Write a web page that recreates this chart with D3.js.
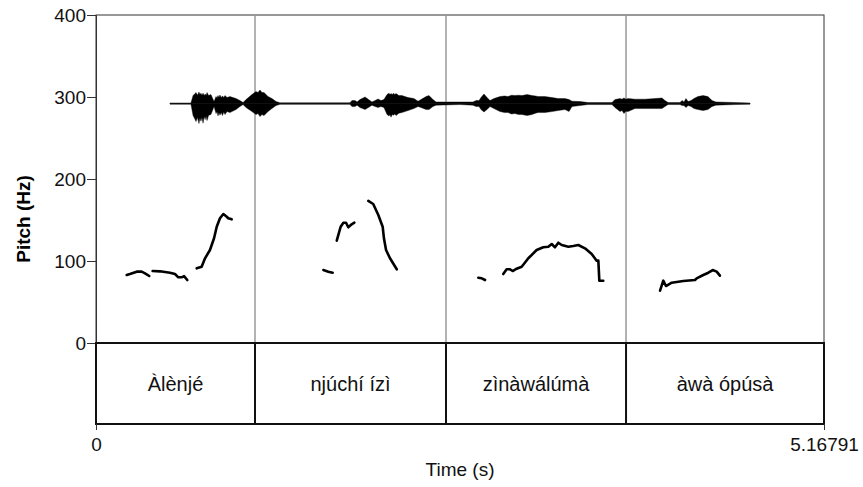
<!DOCTYPE html>
<html><head><meta charset="utf-8">
<script src="https://cdn.jsdelivr.net/npm/d3@7"></script>
<style>body{margin:0;background:#fff}svg{display:block}text{font-family:"Liberation Sans",Arial,sans-serif}</style>
</head><body>
<svg id="c" width="863" height="487"></svg>
<script>
// ---- data ----
const duration = 5.16791;
const pitchTicks = [0, 100, 200, 300, 400];
const timeTickLabels = ["0", "5.16791"];
const wordLabels = ["Àlènjé", "njúchí ízì", "zìnàwálúmà", "àwà ópúsà"];
const wordBounds = [0, 1.1287, 2.4846, 3.7626, 5.16791];
const waveCenterHz = 292;
// pitch contour segments: [time (s), F0 (Hz)]
const pitchSegments = [
  [[0.218,82.9],[0.241,84.1],[0.289,87],[0.324,87],[0.348,85],[0.378,81.7]],
  [[0.402,87.8],[0.454,87.4],[0.525,85.7],[0.561,84.1],[0.584,80.1],[0.608,80.1],[0.625,81.5],[0.648,76.8]],
  [[0.715,91.1],[0.750,93.0],[0.774,103.3],[0.809,113.4],[0.838,127.7],[0.857,141.8],[0.880,152.1],[0.904,157.3],[0.928,154.0],[0.939,152.1],[0.963,150.8]],
  [[1.614,89],[1.649,87],[1.680,85.7]],
  [[1.709,124.8],[1.737,141.8],[1.756,146.7],[1.775,146.7],[1.791,141.1],[1.815,144.8],[1.834,146.7]],
  [[1.933,173.2],[1.968,169.5],[2.004,156.1],[2.035,141.8],[2.044,127.7],[2.059,113.4],[2.087,103.3],[2.135,89.9]],
  [[2.714,79.6],[2.738,78.9],[2.762,76.8]],
  [[2.891,84.1],[2.915,89.9],[2.939,89.9],[2.958,87.8],[2.986,90.6],[3.022,93.0],[3.069,103.3],[3.128,113.4],[3.175,116.7],[3.211,117.4],[3.235,120.7],[3.258,116.7],[3.282,122.3],[3.306,119.5],[3.353,117.4],[3.388,118.3],[3.424,119.5],[3.471,115.5],[3.519,108.5],[3.554,100.4],[3.566,100.4],[3.573,76.0],[3.601,76.0]],
  [[4.004,63.8],[4.027,76.0],[4.046,69.5],[4.087,73.5],[4.169,75.6],[4.252,76.8],[4.264,78.9],[4.311,82.9],[4.347,85.7],[4.378,89.0],[4.406,87.0],[4.429,82.1]]
];
// waveform envelope: [time (s), upper amplitude, lower amplitude] (normalized)
const waveEnvelope = [
  [0.525,0.03,0.03],[0.674,0.03,0.03],[0.689,0.40,0.60],[0.700,0.48,0.75],[0.710,0.55,0.90],[0.720,0.42,0.70],[0.731,0.58,1.00],[0.738,0.45,0.72],[0.745,0.52,0.88],[0.752,0.42,0.70],[0.760,0.52,0.98],[0.768,0.40,0.65],[0.775,0.48,0.80],[0.782,0.40,0.62],[0.788,0.55,0.85],[0.800,0.40,0.58],[0.816,0.45,0.55],[0.838,0.10,0.15],
  [0.852,0.35,0.50],[0.859,0.28,0.40],[0.866,0.40,0.62],[0.873,0.30,0.45],[0.880,0.43,0.58],[0.889,0.30,0.45],[0.898,0.38,0.60],[0.907,0.30,0.42],[0.916,0.40,0.55],[0.930,0.30,0.40],[0.951,0.35,0.45],[0.994,0.25,0.30],[1.022,0.15,0.15],[1.044,0.05,0.05],
  [1.065,0.20,0.20],[1.107,0.45,0.40],[1.136,0.60,0.55],[1.150,0.55,0.50],[1.164,0.68,0.65],[1.178,0.55,0.55],[1.193,0.55,0.60],[1.221,0.35,0.40],[1.249,0.25,0.25],[1.278,0.10,0.10],[1.306,0.04,0.04],
  [1.803,0.04,0.04],[1.817,0.15,0.15],[1.839,0.15,0.15],[1.853,0.08,0.08],[1.874,0.20,0.20],[1.910,0.33,0.30],[1.945,0.15,0.15],[1.959,0.08,0.08],[1.981,0.15,0.15],[2.002,0.23,0.20],[2.023,0.15,0.15],[2.044,0.20,0.20],
  [2.066,0.45,0.55],[2.080,0.52,0.62],[2.087,0.45,0.55],[2.094,0.50,0.68],[2.103,0.45,0.55],[2.112,0.52,0.58],[2.121,0.45,0.52],[2.130,0.50,0.60],[2.150,0.40,0.48],[2.172,0.40,0.45],[2.215,0.30,0.35],[2.257,0.25,0.25],[2.286,0.12,0.15],
  [2.307,0.20,0.20],[2.343,0.35,0.30],[2.364,0.40,0.30],[2.392,0.20,0.15],[2.414,0.08,0.08],[2.584,0.08,0.05],[2.676,0.08,0.08],[2.698,0.15,0.15],[2.719,0.15,0.15],
  [2.733,0.30,0.30],[2.754,0.48,0.42],[2.776,0.30,0.30],[2.797,0.15,0.15],[2.825,0.25,0.25],[2.868,0.35,0.40],[2.900,0.38,0.45],[2.925,0.35,0.45],[2.950,0.42,0.52],[2.974,0.40,0.50],
  [3.000,0.42,0.55],[3.024,0.40,0.55],[3.060,0.45,0.60],[3.095,0.40,0.55],[3.120,0.38,0.48],[3.138,0.35,0.45],[3.187,0.35,0.45],[3.237,0.30,0.40],[3.280,0.25,0.35],[3.329,0.25,0.30],
  [3.358,0.20,0.40],[3.379,0.12,0.15],[3.436,0.10,0.10],[3.493,0.05,0.05],[3.663,0.05,0.05],[3.684,0.20,0.20],[3.720,0.25,0.40],[3.734,0.22,0.35],[3.748,0.28,0.50],[3.762,0.22,0.38],[3.777,0.25,0.40],[3.826,0.22,0.25],
  [3.897,0.22,0.25],[3.968,0.25,0.25],[4.018,0.28,0.25],[4.039,0.15,0.15],[4.061,0.05,0.05],[4.146,0.05,0.05],[4.160,0.15,0.10],[4.174,0.08,0.10],[4.188,0.25,0.20],[4.203,0.10,0.10],
  [4.224,0.15,0.15],[4.245,0.25,0.25],[4.273,0.35,0.30],[4.309,0.40,0.35],[4.344,0.35,0.30],[4.373,0.15,0.15],[4.401,0.08,0.08],[4.536,0.05,0.05],[4.643,0.03,0.03]
];

// ---- layout ----
const svg = d3.select("#c");
const L = 96, R = 824, T = 15, B = 343, TB = 424;
const FS = 19;
const x = d3.scaleLinear().domain([0, duration]).range([L, R]);
const y = d3.scaleLinear().domain([0, 400]).range([B, T]);
const ampHz = d3.scaleLinear().domain([-1, 1]).range([waveCenterHz - 24.4, waveCenterHz + 24.4]);

// frame
svg.append("rect").attr("x", L).attr("y", T).attr("width", R - L).attr("height", B - T)
  .attr("fill", "none").attr("stroke", "#333").attr("stroke-width", 1);

// interval boundaries in pitch area (gray)
svg.selectAll("line.bd").data(wordBounds.slice(1, -1)).join("line")
  .attr("x1", d => x(d)).attr("x2", d => x(d)).attr("y1", T).attr("y2", B)
  .attr("stroke", "#999").attr("stroke-width", 1.5);

// waveform
const area = d3.area().x(d => x(d[0])).y0(d => y(ampHz(-d[2]))).y1(d => y(ampHz(d[1]))).curve(d3.curveLinear);
svg.append("path").datum(waveEnvelope).attr("d", area).attr("fill", "#000").attr("stroke", "#000").attr("stroke-width", 0.4);
svg.append("line").attr("x1", x(waveEnvelope[0][0])).attr("x2", x(waveEnvelope[waveEnvelope.length - 1][0]))
  .attr("y1", y(waveCenterHz)).attr("y2", y(waveCenterHz)).attr("stroke", "#111").attr("stroke-width", 1);

// pitch contours
const line = d3.line().x(d => x(d[0])).y(d => y(d[1]));
svg.selectAll("path.p").data(pitchSegments).join("path").attr("class", "p")
  .attr("d", line).attr("fill", "none").attr("stroke", "#000").attr("stroke-width", 2.6)
  .attr("stroke-linejoin", "round").attr("stroke-linecap", "round");

// y axis
const yAxis = d3.axisLeft(y).tickValues(pitchTicks).tickSize(9).tickPadding(1).tickFormat(d3.format("d"));
const ga = svg.append("g").attr("transform", `translate(${L},0)`).call(yAxis);
ga.select(".domain").attr("stroke", "#333");
ga.selectAll(".tick line").attr("stroke", "#333");
ga.selectAll(".tick text").attr("font-size", FS).attr("fill", "#111").attr("font-family", "Liberation Sans, Arial, sans-serif");

svg.append("text").attr("transform", `translate(30,219) rotate(-90)`).attr("text-anchor", "middle")
  .attr("font-size", FS).attr("font-weight", "bold").text("Pitch (Hz)");

// text tier
svg.append("rect").attr("x", L).attr("y", B).attr("width", R - L).attr("height", TB - B)
  .attr("fill", "none").attr("stroke", "#111").attr("stroke-width", 2);
svg.selectAll("line.tb").data(wordBounds.slice(1, -1)).join("line")
  .attr("x1", d => x(d)).attr("x2", d => x(d)).attr("y1", B).attr("y2", TB)
  .attr("stroke", "#111").attr("stroke-width", 2);
svg.selectAll("text.w").data(wordLabels).join("text")
  .attr("x", (d, i) => x((wordBounds[i] + wordBounds[i + 1]) / 2)).attr("y", 391)
  .attr("text-anchor", "middle").attr("font-size", 20).attr("fill", "#111").text(d => d);

// x axis
const xAxis = d3.axisBottom(x).tickValues([0, duration]).tickSize(6).tickPadding(8)
  .tickFormat((d, i) => timeTickLabels[i]);
const gx = svg.append("g").attr("transform", `translate(0,${TB})`).call(xAxis);
gx.select(".domain").remove();
gx.selectAll(".tick line").attr("stroke", "#333");
gx.selectAll(".tick text").attr("font-size", FS).attr("fill", "#111").attr("font-family", "Liberation Sans, Arial, sans-serif");

svg.append("text").attr("x", (L + R) / 2).attr("y", 476).attr("text-anchor", "middle")
  .attr("font-size", FS).attr("fill", "#111").text("Time (s)");
</script>
</body></html>
